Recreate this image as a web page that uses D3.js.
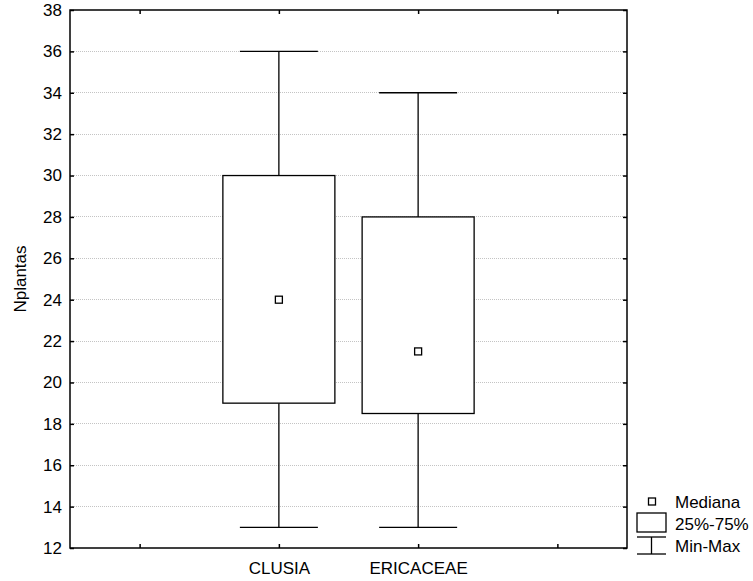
<!DOCTYPE html>
<html>
<head>
<meta charset="utf-8">
<script src="https://cdn.jsdelivr.net/npm/d3@7"></script>
<style>
  body { margin: 0; background: #fff; }
  text { font-family: Arial, "Liberation Sans", sans-serif; fill: #000; }
</style>
</head>
<body>
<svg id="chart" width="753" height="581"></svg>
<script>
// Data
const slots = ["", "CLUSIA", "ERICACEAE", " "];
const groups = ["CLUSIA", "ERICACEAE"];
const mins = [13, 13];
const maxs = [36, 34];
const q1s = [19, 18.5];
const q3s = [30, 28];
const medians = [24, 21.5];
const yTicks = [12, 14, 16, 18, 20, 22, 24, 26, 28, 30, 32, 34, 36, 38];

const margin = { left: 70, right: 627, top: 10, bottom: 548 };
const fontSize = "17px";
const svg = d3.select("#chart");

const x = d3.scalePoint().domain(slots).range([margin.left, margin.right]).padding(0.5);
const y = d3.scaleLinear().domain([12, 38]).range([margin.bottom, margin.top]);

// Gridlines
svg.append("g")
  .selectAll("line")
  .data(yTicks.slice(1, -1))
  .join("line")
  .attr("x1", margin.left).attr("x2", margin.right)
  .attr("y1", d => y(d)).attr("y2", d => y(d))
  .attr("stroke", "#c4c4c4")
  .attr("stroke-width", 1)
  .attr("stroke-dasharray", "1,1")
  .attr("shape-rendering", "crispEdges");

// Left axis
const yAxis = svg.append("g")
  .attr("transform", `translate(${margin.left},0)`)
  .call(d3.axisLeft(y).tickValues(yTicks).tickSize(-4).tickPadding(8));
yAxis.select(".domain").remove();
yAxis.selectAll("text").style("font-size", fontSize);

// Right ticks
const yAxisR = svg.append("g")
  .attr("transform", `translate(${margin.right},0)`)
  .call(d3.axisRight(y).tickValues(yTicks).tickSize(-4).tickFormat(""));
yAxisR.select(".domain").remove();

// Bottom axis
const xAxis = svg.append("g")
  .attr("transform", `translate(0,${margin.bottom})`)
  .call(d3.axisBottom(x).tickSize(-4).tickPadding(14));
xAxis.select(".domain").remove();
xAxis.selectAll("text").style("font-size", fontSize);

// Top ticks
const xAxisT = svg.append("g")
  .attr("transform", `translate(0,${margin.top})`)
  .call(d3.axisTop(x).tickSize(-4).tickFormat(""));
xAxisT.select(".domain").remove();

svg.selectAll(".tick line").attr("stroke", "#000").attr("stroke-width", 1.5);

// Frame
svg.append("rect")
  .attr("x", margin.left).attr("y", margin.top)
  .attr("width", margin.right - margin.left)
  .attr("height", margin.bottom - margin.top)
  .attr("fill", "none").attr("stroke", "#000").attr("stroke-width", 1.5);

// Boxes
const boxHalf = 56, capHalf = 39, medHalf = 3.5;
const boxes = svg.append("g")
  .selectAll("g")
  .data(groups.map((g, i) => ({ g, min: mins[i], max: maxs[i], q1: q1s[i], q3: q3s[i], med: medians[i] })))
  .join("g")
  .attr("stroke", "#000").attr("stroke-width", 1.3).attr("fill", "none");

boxes.append("line")
  .attr("x1", d => x(d.g)).attr("x2", d => x(d.g))
  .attr("y1", d => y(d.max)).attr("y2", d => y(d.q3));
boxes.append("line")
  .attr("x1", d => x(d.g)).attr("x2", d => x(d.g))
  .attr("y1", d => y(d.q1)).attr("y2", d => y(d.min));
boxes.append("line")
  .attr("x1", d => x(d.g) - capHalf).attr("x2", d => x(d.g) + capHalf)
  .attr("y1", d => y(d.max)).attr("y2", d => y(d.max));
boxes.append("line")
  .attr("x1", d => x(d.g) - capHalf).attr("x2", d => x(d.g) + capHalf)
  .attr("y1", d => y(d.min)).attr("y2", d => y(d.min));
boxes.append("rect")
  .attr("x", d => x(d.g) - boxHalf).attr("width", boxHalf * 2)
  .attr("y", d => y(d.q3)).attr("height", d => y(d.q1) - y(d.q3))
  .attr("fill", "#fff");
boxes.append("rect")
  .attr("x", d => x(d.g) - medHalf).attr("width", medHalf * 2)
  .attr("y", d => y(d.med) - medHalf).attr("height", medHalf * 2)
  .attr("fill", "#fff");

// Y label
svg.append("text")
  .attr("transform", `translate(26,${(margin.top + margin.bottom) / 2}) rotate(-90)`)
  .attr("text-anchor", "middle")
  .style("font-size", fontSize)
  .text("Nplantas");

// Legend
const lg = svg.append("g").attr("stroke", "#000").attr("stroke-width", 1.3).attr("fill", "none");
lg.append("rect").attr("x", 648.5).attr("y", 498).attr("width", 7).attr("height", 7).attr("fill", "#fff");
lg.append("rect").attr("x", 637).attr("y", 513).attr("width", 29).attr("height", 19);
lg.append("line").attr("x1", 637).attr("x2", 666).attr("y1", 537).attr("y2", 537);
lg.append("line").attr("x1", 637).attr("x2", 666).attr("y1", 554).attr("y2", 554);
lg.append("line").attr("x1", 651.5).attr("x2", 651.5).attr("y1", 537).attr("y2", 554);

const legendText = ["Mediana", "25%-75%", "Min-Max"];
svg.append("g")
  .selectAll("text")
  .data(legendText)
  .join("text")
  .attr("x", 675)
  .attr("y", (d, i) => 508 + i * 22)
  .style("font-size", fontSize)
  .text(d => d);
</script>
</body>
</html>
